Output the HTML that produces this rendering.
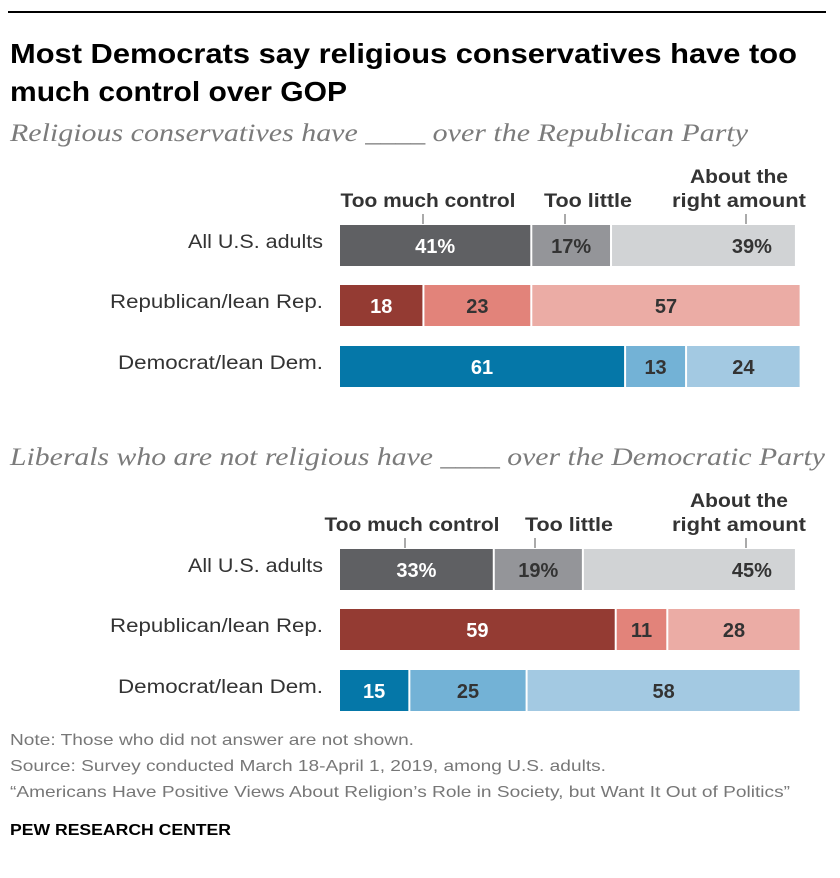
<!DOCTYPE html>
<html><head><meta charset="utf-8"><style>
body{margin:0;background:#fff}
svg{display:block;font-family:"Liberation Sans",sans-serif}
</style></head><body>
<svg id="chart" width="840" height="878" viewBox="0 0 840 878" xmlns="http://www.w3.org/2000/svg">
<rect x="8" y="11" width="818" height="2" fill="#000"/>
<text font-weight="bold" font-size="28" fill="#000"><tspan x="10" y="63" textLength="787" lengthAdjust="spacingAndGlyphs">Most Democrats say religious conservatives have too</tspan><tspan x="10" y="101" textLength="337" lengthAdjust="spacingAndGlyphs">much control over GOP</tspan></text>
<text x="10" y="141" font-family="Liberation Serif,serif" font-style="italic" font-size="25" fill="#7b7b7b" textLength="738" lengthAdjust="spacingAndGlyphs">Religious conservatives have ____ over the Republican Party</text>
<text x="10" y="465" font-family="Liberation Serif,serif" font-style="italic" font-size="25" fill="#7b7b7b" textLength="815" lengthAdjust="spacingAndGlyphs">Liberals who are not religious have ____ over the Democratic Party</text>
<g id="bars"></g>
<g fill="#777" font-size="16">
<text x="10" y="745" textLength="404" lengthAdjust="spacingAndGlyphs">Note: Those who did not answer are not shown.</text>
<text x="10" y="771" textLength="596" lengthAdjust="spacingAndGlyphs">Source: Survey conducted March 18-April 1, 2019, among U.S. adults.</text>
<text x="10" y="797" textLength="780" lengthAdjust="spacingAndGlyphs">“Americans Have Positive Views About Religion’s Role in Society, but Want It Out of Politics”</text>
<text x="10" y="835" fill="#000" font-weight="bold" textLength="221" lengthAdjust="spacingAndGlyphs">PEW RESEARCH CENTER</text>
</g>
</svg>
<script>
const groups = ["All U.S. adults","Republican/lean Rep.","Democrat/lean Dem."];
const gopTooMuch = [41,18,61];
const gopTooLittle = [17,23,13];
const gopRight = [39,57,24];
const demTooMuch = [33,59,15];
const demTooLittle = [19,11,25];
const demRight = [45,28,58];
const categories = ["Too much control","Too little","About the right amount"];

const NS="http://www.w3.org/2000/svg";
const g=document.getElementById('bars');
const X0=340, K=4.69;
const xs=v=>v*K;
const colors=[["#5f6063","#949599","#d1d3d5"],["#943b33","#e2837a","#ebaca5"],["#0577a8","#73b2d6","#a3c9e2"]];
const txtCol=[["#fff","#333","#333"],["#fff","#333","#333"],["#fff","#333","#333"]];
const labelLen=[135,213,205];
const headerLen=[175,88];
function el(tag,attrs,text){const e=document.createElementNS(NS,tag);for(const k in attrs)e.setAttribute(k,attrs[k]);if(text!==undefined)e.textContent=text;g.appendChild(e);return e;}

function panel(series,top,headerY,prefix,hx,tx){
  const rowTops=[top,top+60,top+121];
  for(let s=0;s<3;s++){
    const t=el('text',{'text-anchor':'middle','font-size':19,'font-weight':'bold',fill:'#333'});
    
    
    if(s===2){
      const a=document.createElementNS(NS,'tspan');a.setAttribute('x',hx[s]);a.setAttribute('y',headerY-24);a.setAttribute('textLength',98);a.setAttribute('lengthAdjust','spacingAndGlyphs');a.textContent='About the';t.appendChild(a);
      const b=document.createElementNS(NS,'tspan');b.setAttribute('x',hx[s]);b.setAttribute('y',headerY);b.setAttribute('textLength',134);b.setAttribute('lengthAdjust','spacingAndGlyphs');b.textContent='right amount';t.appendChild(b);
    } else {t.setAttribute('x',hx[s]);t.setAttribute('y',headerY);t.setAttribute('textLength',headerLen[s]);t.setAttribute('lengthAdjust','spacingAndGlyphs');t.textContent=categories[s];}
    const l=el('line',{x1:tx[s],x2:tx[s],y1:top-11,y2:top-1,stroke:'#555','stroke-width':1});
    
    
  }
  for(let r=0;r<3;r++){
    const y=rowTops[r];
    const lab=el('text',{x:323-labelLen[r],y:y+23,'font-size':19,fill:'#333',textLength:labelLen[r],lengthAdjust:'spacingAndGlyphs'},groups[r]);
    
    
    let c=0;
    for(let s=0;s<3;s++){
      const v=series[s][r];
      const x=X0+xs(c);
      const w=xs(v)-(s<2?2:0);
      const rc=el('rect',{x:x,y:y,width:w,height:41,fill:colors[r][s]});
      
      
      let lx=x+w/2;
      if(r===0&&s===2) lx=x+w-43;
      const t=el('text',{x:lx,y:y+28,'text-anchor':'middle','font-size':20,'font-weight':'bold',fill:txtCol[r][s]},v+(r===0?'%':''));
      
      
      c+=v;
    }
  }
}
panel([gopTooMuch,gopTooLittle,gopRight],225,207,'gop',[428,588,739],[423,565,746]);
panel([demTooMuch,demTooLittle,demRight],549,531,'dem',[412,569,739],[405,535,746]);
</script>
</body></html>
